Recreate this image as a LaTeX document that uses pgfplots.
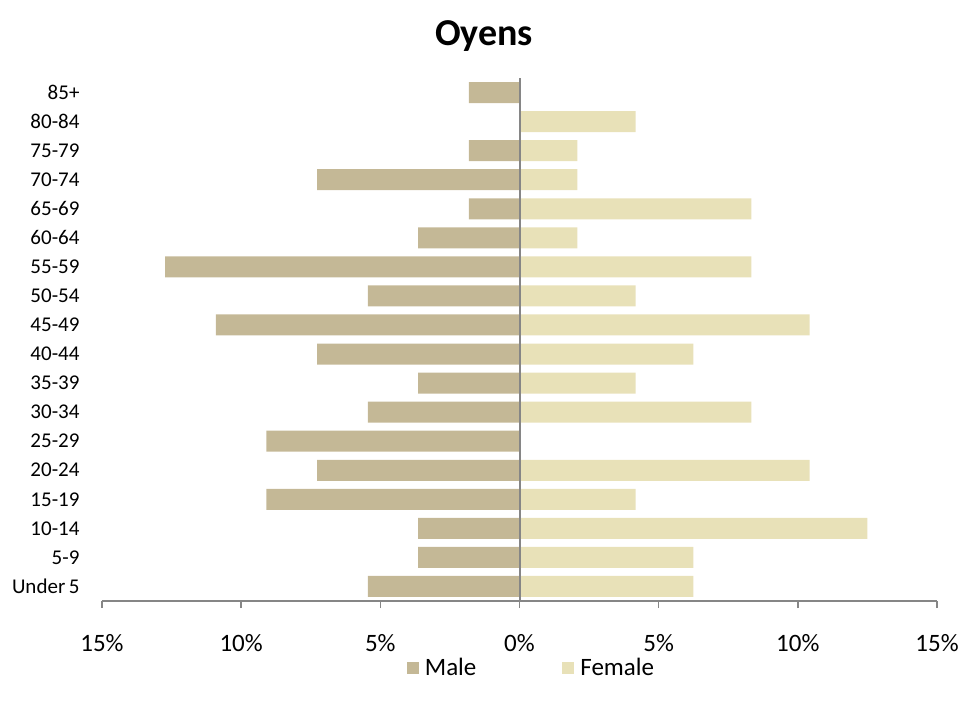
\documentclass[border=0pt]{standalone}
\usepackage{pgfplots}
\pgfplotsset{compat=1.18}
\usepackage{fontspec}
\setmainfont{Carlito}
\definecolor{male}{RGB}{196,184,150}
\definecolor{female}{RGB}{232,225,184}
\definecolor{axgray}{RGB}{134,134,134}
\begin{document}
\begin{tikzpicture}
\begin{axis}[
  scale only axis,
  width=835pt, height=523pt,
  xmin=-15, xmax=15,
  ymin=-0.5, ymax=17.5,
  xtick={-15,-10,-5,0,5,10,15},
  xticklabels={15\%,10\%,5\%,0\%,5\%,10\%,15\%},
  ytick={0,...,17},
  yticklabels={Under\,5,5-9,10-14,15-19,20-24,25-29,30-34,35-39,40-44,45-49,50-54,55-59,60-64,65-69,70-74,75-79,80-84,85+},
  axis x line*=bottom,
  axis y line*=left,
  y axis line style={draw=none},
  x axis line style={draw=axgray, line width=2pt},
  ytick style={draw=none},
  xtick style={draw=axgray, line width=1.5pt},
  xtick align=outside,
  major tick length=7pt,
  tick label style={font=\fontsize{25}{28}\selectfont},
  yticklabel style={font=\fontsize{21}{24}\selectfont, xshift=-12pt},
  xticklabel style={yshift=-23pt},
  /pgf/number format/assume math mode=true,
  xbar, bar width=21pt, bar shift=0pt,
  clip=false,
  legend style={at={(0.5,0)}, anchor=center, yshift=-67pt, xshift=12pt, draw=none, fill=none,
    legend columns=2, font=\fontsize{25}{28}\selectfont,
    /tikz/every even column/.append style={column sep=84pt}},
  legend image code/.code={\fill[#1] (0pt,-6pt) rectangle (12pt,6pt);},
]
\addplot[fill=male, draw=none] coordinates {
(-5.45,0) (-3.64,1) (-3.64,2) (-9.09,3) (-7.27,4) (-9.09,5) (-5.45,6) (-3.64,7) (-7.27,8) (-10.91,9) (-5.45,10) (-12.73,11) (-3.64,12) (-1.82,13) (-7.27,14) (-1.82,15) (0,16) (-1.82,17)};
\addlegendentry{\hspace{4pt}Male}
\addplot[fill=female, draw=none] coordinates {
(6.25,0) (6.25,1) (12.5,2) (4.17,3) (10.42,4) (0,5) (8.33,6) (4.17,7) (6.25,8) (10.42,9) (4.17,10) (8.33,11) (2.08,12) (8.33,13) (2.08,14) (2.08,15) (4.17,16) (0,17)};
\addlegendentry{\hspace{4pt}Female}
\draw[axgray, line width=2pt] (axis cs:0,-0.5) -- (axis cs:0,17.5);
\end{axis}
\node[font=\fontsize{38}{42}\selectfont\bfseries] at (382pt,565pt) {Oyens};
\pgfresetboundingbox
\path[use as bounding box] (-102pt,-112pt) rectangle (877pt,601pt);
\end{tikzpicture}
\end{document}
